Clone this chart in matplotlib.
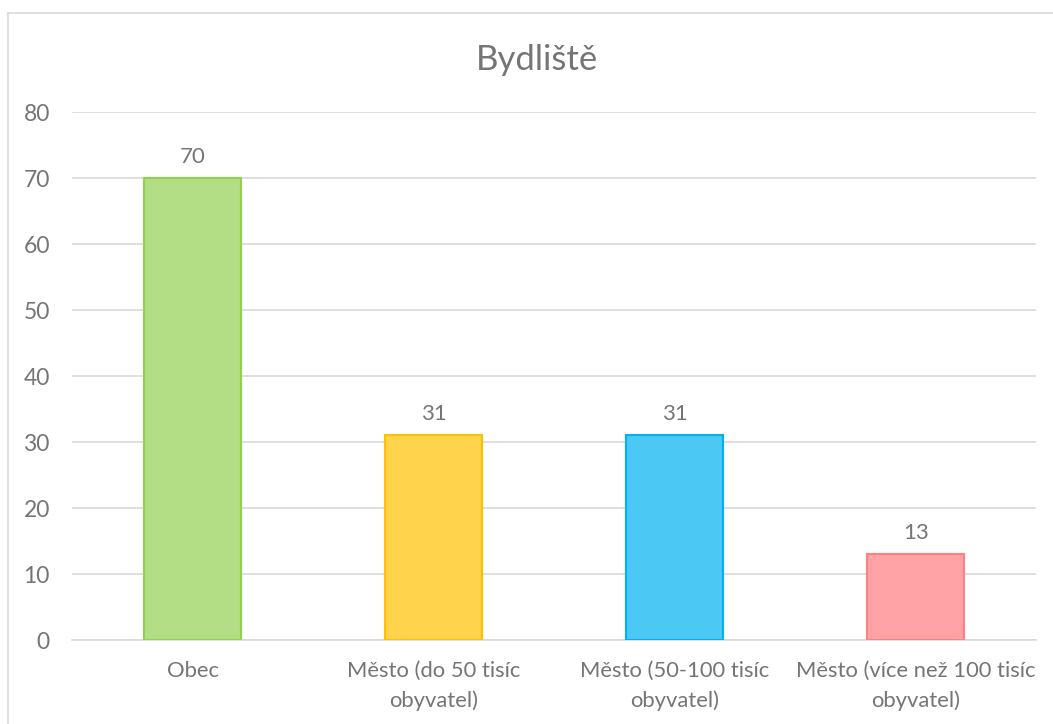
import matplotlib.pyplot as plt
from matplotlib.lines import Line2D

categories = ["Obec", "Město (do 50 tisíc\nobyvatel)", "Město (50-100 tisíc\nobyvatel)",
              "Město (více než 100 tisíc\nobyvatel)"]
values = [70, 31, 31, 13]
fill_colors = ["#b3de85", "#ffd34c", "#4cc8f4", "#ffa3a6"]
edge_colors = ["#92d050", "#ffc000", "#00b0f0", "#ff8080"]
y_ticks = [0, 10, 20, 30, 40, 50, 60, 70, 80]

text_color = "#757575"
grid_color = "#d9d9d9"

plt.rcParams['font.family'] = ['Lato', 'DejaVu Sans']

fig = plt.figure(figsize=(10.53, 7.24), dpi=100)
ax = fig.add_axes([0.0684, 0.116, 0.9156, 0.729])

x = range(len(categories))
bars = ax.bar(x, values, width=0.4, color=fill_colors, edgecolor=edge_colors, linewidth=1.5, zorder=3)
for b, v in zip(bars, values):
    ax.annotate(str(v), (b.get_x() + b.get_width() / 2, v), xytext=(0, 8), textcoords="offset points",
                ha="center", va="bottom", fontsize=16, color=text_color)

ax.set_xlim(-0.5, len(categories) - 0.5)
ax.set_ylim(0, 80)
ax.set_yticks(y_ticks)
ax.set_xticks(list(x))
ax.set_xticklabels(categories, fontsize=15.8, color=text_color, linespacing=1.58)
ax.tick_params(axis="y", length=0, pad=16, labelsize=16.5, labelcolor=text_color)
ax.tick_params(axis="x", length=0, pad=15)
ax.yaxis.grid(True, color=grid_color, linewidth=1.2, zorder=0)
ax.set_axisbelow(True)
for s in ["top", "right", "left"]:
    ax.spines[s].set_visible(False)
ax.spines["bottom"].set_color(grid_color)
ax.spines["bottom"].set_linewidth(1.2)

fig.text(0.51, 0.917, "Bydliště", ha="center", va="center", fontsize=25, color=text_color)

# chart frame (cropped at right and bottom)
fig.add_artist(Line2D([7.5 / 1053, 1], [1 - 13 / 724, 1 - 13 / 724], transform=fig.transFigure,
                      color=grid_color, linewidth=1.2))
fig.add_artist(Line2D([7.5 / 1053, 7.5 / 1053], [0, 1 - 13 / 724], transform=fig.transFigure,
                      color=grid_color, linewidth=1.2))

fig.savefig("out.png", dpi=100)
